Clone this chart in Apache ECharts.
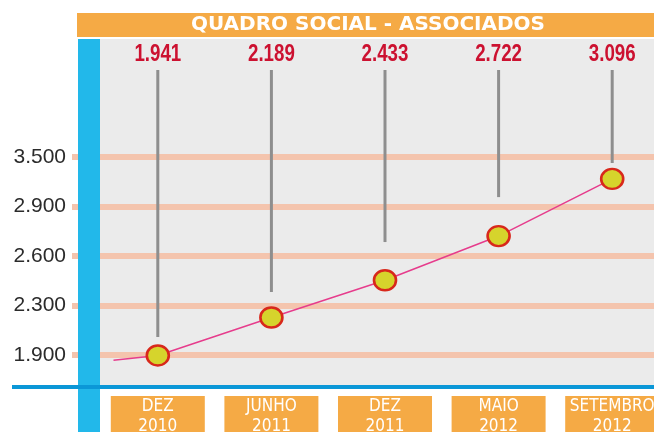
<!DOCTYPE html>
<html lang="pt">
<head>
    <meta charset="UTF-8">
    <title>Quadro social - associados</title>
    <script src="https://cdn.jsdelivr.net/npm/echarts@6/dist/echarts.min.js"></script>
    <style>
        html, body { margin: 0; padding: 0; background: #fff; }
    </style>
</head>
<body>
<div id="main" style="width: 654px;height: 432px;"></div>
<script type="text/javascript">
    // dados
    var categorias = ['DEZ\n2010', 'JUNHO\n2011', 'DEZ\n2011', 'MAIO\n2012', 'SETEMBRO\n2012'];
    var associados = [1941, 2189, 2433, 2722, 3096];
    // onde termina cada haste cinza (mesma escala dos associados)
    var fimHaste = [2061, 2356, 2683, 2977, 3200];
    // rótulos da escala à esquerda (linhas igualmente espaçadas)
    var rotulosEixo = ['1.900', '2.300', '2.600', '2.900', '3.500'];
    // início da linha antes do primeiro ponto
    var entrada = [[-0.39, 1910], [0, 1941]];

    function fmt(v) {
        return String(v).replace(/\B(?=(\d{3})+(?!\d))/g, '.');
    }

    var hastes = [];
    for (var i = 0; i < associados.length; i++) {
        hastes.push([i, fimHaste[i], associados[i]]);
    }

    var narrow = '"Liberation Sans Narrow", "DejaVu Sans Condensed", sans-serif';

    var myChart = echarts.init(document.getElementById('main'));

    var option = {
        animation: false,
        backgroundColor: '#ffffff',
        graphic: [
            // painel cinza
            { type: 'rect', z: -10, shape: { x: 100, y: 39, width: 554, height: 347 }, style: { fill: '#ebebeb' } },
            // faixa do título
            { type: 'rect', z: 10, shape: { x: 77, y: 13, width: 577, height: 24 }, style: { fill: '#f5aa45' } },
            {
                type: 'text', z: 11, x: 368, y: 25,
                style: {
                    text: 'QUADRO SOCIAL - ASSOCIADOS', fill: '#ffffff',
                    font: 'bold 20px "DejaVu Sans", sans-serif',
                    align: 'center', verticalAlign: 'middle'
                }
            },
            // barra azul vertical
            { type: 'rect', z: 10, shape: { x: 78, y: 39, width: 22, height: 393 }, style: { fill: '#22b8ea' } },
            // linha azul horizontal
            { type: 'rect', z: 11, shape: { x: 12, y: 385, width: 642, height: 4 }, style: { fill: '#0b97d7' } }
        ],
        grid: [
            { left: 101, width: 568, top: 38, bottom: 46, outerBoundsMode: 'none', containLabel: false },
            { left: 72, right: 0, top: 157, bottom: 77, outerBoundsMode: 'none', containLabel: false }
        ],
        xAxis: [
            {
                type: 'category', gridIndex: 0, data: categorias,
                axisLine: { show: false }, axisTick: { show: false },
                axisLabel: {
                    interval: 0,
                    hideOverlap: false,
                    margin: 10,
                    color: '#ffffff',
                    fontFamily: narrow,
                    fontSize: 17,
                    lineHeight: 20,
                    backgroundColor: '#f5aa45',
                    width: 94,
                    height: 44,
                    align: 'center',
                    verticalAlign: 'top',
                    padding: [1, 0, 0, 0]
                }
            },
            { type: 'value', gridIndex: 0, min: -0.5, max: 4.5, show: false },
            { type: 'value', gridIndex: 1, min: 0, max: 1, show: false }
        ],
        yAxis: [
            { type: 'value', gridIndex: 0, min: 1741, max: 4018, show: false },
            {
                type: 'value', gridIndex: 1, min: 0, max: 4, interval: 1,
                axisLine: { show: false }, axisTick: { show: false },
                axisLabel: {
                    margin: 6,
                    color: '#2b2b2b',
                    fontFamily: '"Liberation Sans", Arial, sans-serif',
                    fontSize: 21,
                    formatter: function (v) { return rotulosEixo[v]; }
                },
                splitLine: { lineStyle: { color: '#f4c4ad', width: 6 } }
            }
        ],
        series: [
            {
                type: 'custom',
                xAxisIndex: 0, yAxisIndex: 0,
                z: 2,
                data: hastes,
                renderItem: function (params, api) {
                    var p = api.coord([api.value(0), api.value(1)]);
                    var topo = params.coordSys.y;
                    return {
                        type: 'group',
                        children: [
                            {
                                type: 'line',
                                shape: { x1: p[0], y1: topo + 32, x2: p[0], y2: p[1] },
                                style: { stroke: '#8e8e8e', lineWidth: 3 }
                            },
                            {
                                type: 'text',
                                x: p[0], y: topo + 16,
                                scaleX: 0.78,
                                style: {
                                    text: fmt(api.value(2)),
                                    x: 0, y: 0,
                                    align: 'center', verticalAlign: 'middle',
                                    fill: '#cc1130',
                                    font: 'bold 24px "Liberation Sans", Arial, sans-serif'
                                }
                            }
                        ]
                    };
                }
            },
            {
                type: 'line',
                xAxisIndex: 1, yAxisIndex: 0,
                z: 3,
                data: entrada,
                showSymbol: false,
                lineStyle: { color: '#e63c8c', width: 1.5 }
            },
            {
                type: 'line',
                xAxisIndex: 0, yAxisIndex: 0,
                z: 4,
                data: associados,
                symbol: 'circle',
                symbolSize: [22, 20],
                itemStyle: { color: '#d6d42c', borderColor: '#d8281b', borderWidth: 2.5 },
                lineStyle: { color: '#e63c8c', width: 1.5 }
            }
        ]
    };
    myChart.setOption(option);
</script>
</body>
</html>
